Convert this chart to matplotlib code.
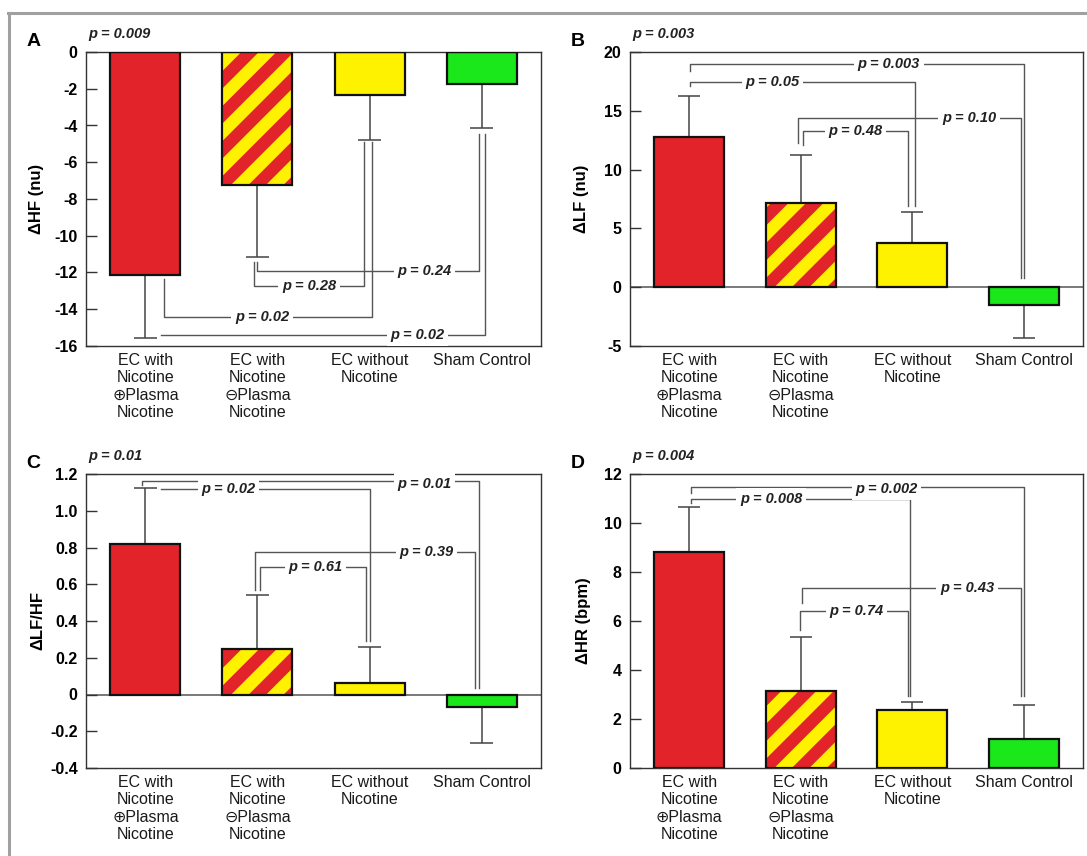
import numpy as np
import matplotlib
matplotlib.use("Agg")
from matplotlib import pyplot as plt
from matplotlib.lines import Line2D

plt.rcParams['font.family'] = ['Liberation Sans', 'DejaVu Sans']
plt.rcParams['axes.unicode_minus'] = False

# ---- data ----
categories = ['EC with\nNicotine\n\u2295Plasma\nNicotine',
              'EC with\nNicotine\n\u2296Plasma\nNicotine',
              'EC without\nNicotine',
              'Sham Control']

hf_mean = [-12.15, -7.22, -2.33, -1.76]
hf_err = [3.41, 3.96, 2.47, 2.39]
lf_mean = [12.77, 7.17, 3.76, -1.52]
lf_err = [3.50, 4.05, 2.67, 2.76]
lfhf_mean = [0.821, 0.248, 0.063, -0.067]
lfhf_err = [0.303, 0.296, 0.197, 0.196]
hr_mean = [8.82, 3.14, 2.38, 1.18]
hr_err = [1.82, 2.22, 0.30, 1.38]

overall_p = ['p = 0.009', 'p = 0.003', 'p = 0.01', 'p = 0.004']

# pairwise comparisons: (group i, group j, label)
hf_pairs = [(1, 2, 'p = 0.28'), (1, 3, 'p = 0.24'), (0, 2, 'p = 0.02'), (0, 3, 'p = 0.02')]
lf_pairs = [(0, 3, 'p = 0.003'), (0, 2, 'p = 0.05'), (1, 3, 'p = 0.10'), (1, 2, 'p = 0.48')]
lfhf_pairs = [(0, 3, 'p = 0.01'), (0, 2, 'p = 0.02'), (1, 3, 'p = 0.39'), (1, 2, 'p = 0.61')]
hr_pairs = [(0, 3, 'p = 0.002'), (0, 2, 'p = 0.008'), (1, 3, 'p = 0.43'), (1, 2, 'p = 0.74')]

# bracket geometry per comparison: (x offset i, y start i, level, x offset j, y end j, label x, label y)
hf_geom = [(-0.03, -11.45, -12.76, -0.05, -4.9, 1.46, -12.76),
           (0.0, -11.45, -11.9, -0.02, -4.45, 2.49, -11.9),
           (0.17, -12.36, -14.4, 0.02, -4.9, 1.04, -14.4),
           (0.14, -15.42, -15.42, 0.03, -4.45, 2.43, -15.42)]
lf_geom = [(0.01, 18.4, 18.94, 0.0, 0.8, 1.79, 18.94),
           (0.01, 17.07, 17.47, 0.02, 6.9, 0.745, 17.47),
           (-0.02, 12.25, 14.4, -0.03, 0.8, 2.51, 14.4),
           (0.02, 12.1, 13.26, -0.035, 6.9, 1.49, 13.26)]
lfhf_geom = [(-0.03, 1.14, 1.164, -0.02, 0.036, 2.49, 1.145),
             (0.14, 1.12, 1.12, 0.0, 0.29, 0.74, 1.12),
             (-0.02, 0.57, 0.776, -0.06, 0.036, 2.51, 0.776),
             (0.02, 0.57, 0.694, -0.03, 0.29, 1.52, 0.694)]
hr_geom = [(0.015, 11.22, 11.47, 0.0, 2.93, 1.77, 11.38),
           (0.015, 10.82, 10.98, -0.02, 2.93, 0.735, 11.0),
           (0.01, 6.73, 7.35, -0.03, 2.93, 2.49, 7.35),
           (-0.01, 5.65, 6.42, -0.04, 2.93, 1.50, 6.42)]

RED = '#E3232A'
YEL = '#FFF200'
GRN = '#1AE81A'
faces = [RED, YEL, YEL, GRN]
LINE = '#555555'

fig = plt.figure(figsize=(10.87, 8.56), dpi=100)
W, H = 1087.0, 856.0


def add_stripes(ax, patch, period=35.0):
    bb = ax.get_position()
    x0, x1 = ax.get_xlim()
    y0, y1 = ax.get_ylim()
    ppx = bb.width * W / (x1 - x0)
    ppy = bb.height * H / (y1 - y0)
    left = patch.get_x() * ppx - period
    right = (patch.get_x() + patch.get_width()) * ppx + period
    ya = min(patch.get_y(), patch.get_y() + patch.get_height()) * ppy
    yb = max(patch.get_y(), patch.get_y() + patch.get_height()) * ppy
    lw = period / np.sqrt(2) / 2 * 72 / 100
    for c in np.arange(ya - right, yb - left + period, period):
        xs = np.array([left, right])
        ys = xs + c
        ln, = ax.plot(xs / ppx, ys / ppy, color=RED, lw=lw, solid_capstyle='butt', zorder=2.5)
        ln.set_clip_path(patch)


def panel(rect, means, errs, ylim, yticks, yticklabels, ylabel, ylab_x,
          pairs, geom, letter, ptop, zero_line):
    ax = fig.add_axes(rect)
    x = np.arange(len(means))
    ax.set_xlim(-0.53, 3.53)
    ax.set_ylim(*ylim)
    bars = ax.bar(x, means, width=0.625, color=faces, edgecolor='none', zorder=2)
    add_stripes(ax, bars[1])
    ax.bar(x, means, width=0.625, fill=False, edgecolor='#111111', lw=1.6, zorder=3)

    # one-sided error bars away from zero
    means = np.array(means)
    tips = means + np.sign(means) * np.array(errs)
    ax.vlines(x, means, tips, color='#444444', lw=1.1, zorder=1.5)
    ax.hlines(tips, x - 0.1, x + 0.1, color='#444444', lw=1.1, zorder=1.5)

    if zero_line:
        ax.axhline(0, color='#555555', lw=1.1, zorder=1)

    for (i, j, lab), (dxi, ys, lev, dxj, ye, lx, ly) in zip(pairs, geom):
        xi, xj = i + dxi, j + dxj
        ax.plot([xi, xi, xj, xj], [ys, lev, lev, ye], color=LINE, lw=1.0, zorder=1.2)
        ax.text(lx, ly, lab, ha='center', va='center', fontsize=10.5,
                fontweight='bold', fontstyle='italic', color='#222222', zorder=4,
                bbox=dict(boxstyle='square,pad=0.25', fc='white', ec='none'))

    ax.set_yticks(yticks)
    ax.set_yticklabels(yticklabels, fontsize=11.5, fontweight='bold')
    ax.tick_params(axis='y', direction='in', length=8, width=1.0, pad=6, color='#333333')
    ax.set_xticks(x)
    ax.set_xticklabels(categories, fontsize=11.5, linespacing=1.2, color='#1a1a1a')
    ax.tick_params(axis='x', length=0, pad=5)
    for s in ax.spines.values():
        s.set_color('#333333')
        s.set_linewidth(1.0)
    ax.set_ylabel(ylabel, fontsize=12, fontweight='bold')
    ax.yaxis.set_label_coords(ylab_x, 0.5)

    ax.text(-0.116, 1.035, letter, transform=ax.transAxes, fontsize=14,
            fontweight='bold', ha='center', va='center')
    ax.text(0.006, 1.06, ptop, transform=ax.transAxes, fontsize=10.5,
            fontweight='bold', fontstyle='italic', ha='left', va='center', color='#222222')
    return ax


top_b = (H - 346) / H
bot_b = (H - 768) / H
hgt = 294 / H

panel([86 / W, top_b, 455 / W, hgt], hf_mean, hf_err, (-16, 0),
      np.arange(-16, 1, 2), [str(v) for v in range(-16, 1, 2)],
      '\u0394HF (nu)', -0.093, hf_pairs, hf_geom, 'A', overall_p[0], False)
panel([630 / W, top_b, 453 / W, hgt], lf_mean, lf_err, (-5, 20),
      np.arange(-5, 21, 5), [str(v) for v in range(-5, 21, 5)],
      '\u0394LF (nu)', -0.091, lf_pairs, lf_geom, 'B', overall_p[1], True)
panel([86 / W, bot_b, 455 / W, hgt], lfhf_mean, lfhf_err, (-0.4, 1.2),
      np.linspace(-0.4, 1.2, 9),
      ['-0.4', '-0.2', '0', '0.2', '0.4', '0.6', '0.8', '1.0', '1.2'],
      '\u0394LF/HF', -0.090, lfhf_pairs, lfhf_geom, 'C', overall_p[2], True)
panel([630 / W, bot_b, 453 / W, hgt], hr_mean, hr_err, (0, 12),
      np.arange(0, 13, 2), [str(v) for v in range(0, 13, 2)],
      '\u0394HR (bpm)', -0.087, hr_pairs, hr_geom, 'D', overall_p[3], False)

# grey frame on the top and left
fig.add_artist(Line2D([8.7 / W, 8.7 / W], [0, 1 - 13 / H], color='#A0A0A0', lw=2.2))
fig.add_artist(Line2D([7.6 / W, 1], [1 - 13 / H, 1 - 13 / H], color='#A0A0A0', lw=2.2))

fig.savefig('out.png', dpi=100)
